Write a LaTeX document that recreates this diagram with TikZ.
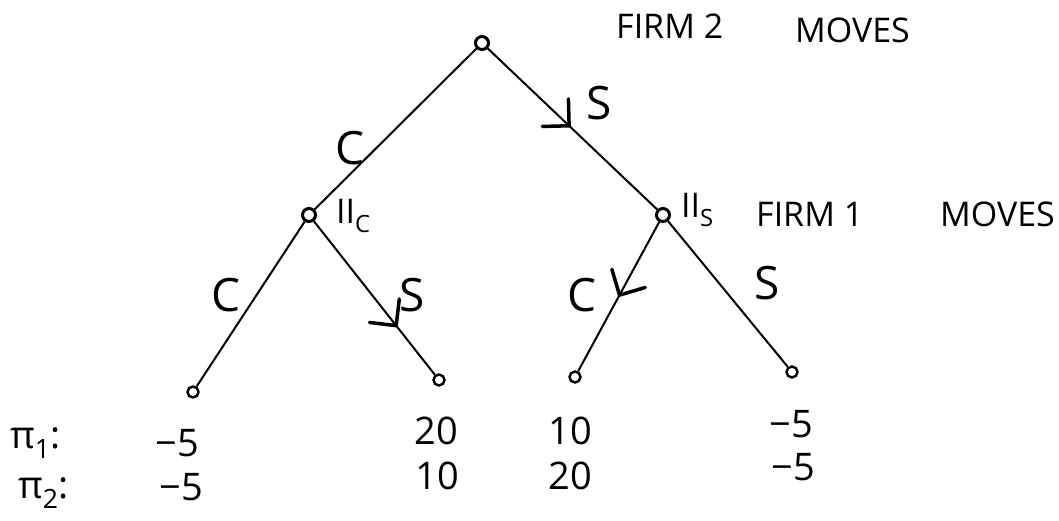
\documentclass[tikz,border=0pt]{standalone}
\usepackage{fontspec}
\setmainfont{Open Sans}
\usetikzlibrary{arrows.meta,decorations.markings}
\begin{document}
\begin{tikzpicture}[x=1pt,y=-1pt,
  vert/.style={circle,draw,line width=3pt,minimum size=13pt,inner sep=0pt},
  leaf/.style={circle,draw,line width=2.4pt,minimum size=11pt,inner sep=0pt},
  edge/.style={line width=2pt},
  midarrow/.style={postaction={decorate},decoration={markings,mark=at position #1 with {\draw[line width=3.5pt,line cap=round,line join=round] (-19pt,-19pt) -- (0pt,0pt) -- (-19pt,19pt);}}},
  lbl/.style={font=\fontsize{46}{48}\selectfont,inner sep=0pt},
  txt/.style={font=\fontsize{34}{38}\selectfont,inner sep=0pt},
  num/.style={font=\fontsize{38}{40}\selectfont,inner sep=0pt}]
\useasboundingbox (0,0) rectangle (1059,520);
% vertices
\node[vert] (root) at (482,43) {};
\node[vert] (IIc) at (309,215) {};
\node[vert] (IIs) at (663,215) {};
\node[leaf] (LL) at (193,392) {};
\node[leaf] (LR) at (439,380) {};
\node[leaf] (RL) at (575,377) {};
\node[leaf] (RR) at (792,372) {};
% edges
\draw[edge] (root) -- (IIc);
\draw[edge,midarrow=0.48] (root) -- (IIs);
\draw[edge] (IIc) -- (LL);
\draw[edge,midarrow=0.68] (IIc) -- (LR);
\draw[edge,midarrow=0.49] (IIs) -- (RL);
\draw[edge] (IIs) -- (RR);
% edge labels
\node[lbl] (c1) at (350,148) {C};
\node[lbl] (s1) at (599,103) {S};
\node[lbl] (c2) at (226,295) {C};
\node[lbl] (s2) at (412,295) {S};
\node[lbl] (c3) at (582,295) {C};
\node[lbl] (s3) at (767,283) {S};
% node labels
\node[txt,anchor=west] (labc) at (336,216) {II\textsubscript{C}};
\node[txt,anchor=west] (labs) at (681,210) {II\textsubscript{S}};
\node[txt,anchor=west] (f1) at (756,214) {FIRM 1};
\node[txt,anchor=west] (m1) at (940,214) {MOVES};
\node[txt,anchor=west] (f2) at (616,26) {FIRM 2};
\node[txt,anchor=west] (m2) at (795,30) {MOVES};
% payoffs
\node[num,anchor=west] (p1) at (10,443) {π\textsubscript{1}:};
\node[num,anchor=west] (p2) at (18,493) {π\textsubscript{2}:};
\node[num] (a1) at (177,443) {−5};
\node[num] (a2) at (181,487) {−5};
\node[num] (b1) at (436,431) {20};
\node[num] (b2) at (437,476) {10};
\node[num] (d1) at (570,431) {10};
\node[num] (d2) at (570,476) {20};
\node[num] (e1) at (791,424) {−5};
\node[num] (e2) at (793,467) {−5};
\end{tikzpicture}
\end{document}
